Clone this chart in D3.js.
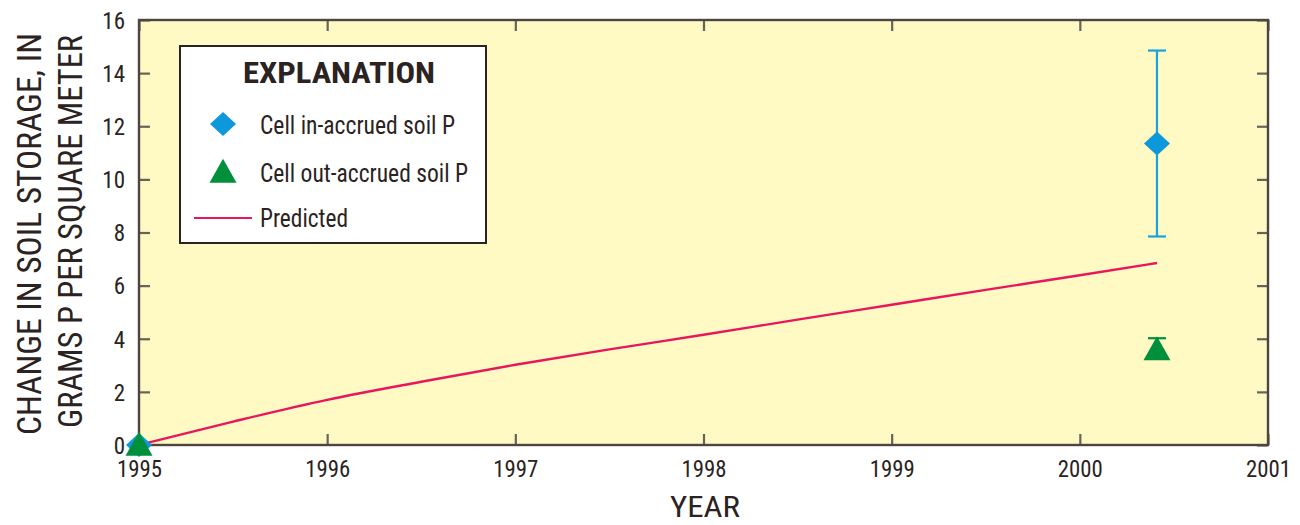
<!DOCTYPE html>
<html><head><meta charset="utf-8">
<script src="https://cdn.jsdelivr.net/npm/d3@7"></script>
<style>
html,body{margin:0;padding:0;background:#fff;}
svg{display:block;}
text{font-family:"Liberation Sans Narrow","Roboto Condensed","DejaVu Sans Condensed","Arial Narrow",sans-serif;fill:#2a2322;}
</style></head>
<body>
<svg id="chart" width="1300" height="525"></svg>
<script>
// ---- data ----
const predictedYears  = [1995, 1995.5, 1996, 1996.5, 1997, 1997.5, 1998, 1998.5, 1999, 1999.5, 2000, 2000.41];
const predictedValues = [0, 0.88, 1.7, 2.38, 3.02, 3.6, 4.15, 4.72, 5.28, 5.84, 6.39, 6.85];
const inYears   = [1995, 2000.41];
const inValues  = [0, 11.35];
const inLow     = [0, 7.85];
const inHigh    = [0, 14.85];
const outYears  = [1995, 2000.41];
const outValues = [0, 3.6];
const outLow    = [0, 3.25];
const outHigh   = [0, 4.02];
const xTicks = [1995, 1996, 1997, 1998, 1999, 2000, 2001];
const yTicks = [0, 2, 4, 6, 8, 10, 12, 14, 16];
const legendLabels = ["Cell in-accrued soil P", "Cell out-accrued soil P", "Predicted"];

// ---- layout ----
const svg = d3.select("#chart");
const L = 139, R = 1268, T = 20, B = 445;
const x = d3.scaleLinear().domain([1995, 2001]).range([L, R]);
const y = d3.scaleLinear().domain([0, 16]).range([B, T]);

const blue = "#0d98dc", blueBar = "#1aa2dc", green = "#008f3a", pink = "#e8175d";
const frame = "#4e4540", tickCol = "#6a615a";

svg.append("rect").attr("x", L).attr("y", T).attr("width", R - L).attr("height", B - T)
  .attr("fill", "#fff9c3");

// ticks (inside) via axes
const tickLen = 11;
const gB = svg.append("g").attr("transform", `translate(0,${B})`)
  .call(d3.axisBottom(x).tickValues(xTicks).tickFormat(d3.format("d")).tickSizeInner(-tickLen).tickSizeOuter(0).tickPadding(16));
const gT = svg.append("g").attr("transform", `translate(0,${T})`)
  .call(d3.axisTop(x).tickValues(xTicks).tickSizeInner(-tickLen).tickSizeOuter(0).tickFormat(""));
const gL = svg.append("g").attr("transform", `translate(${L},0)`)
  .call(d3.axisLeft(y).tickValues(yTicks).tickSizeInner(-tickLen).tickSizeOuter(0).tickPadding(14));
const gR = svg.append("g").attr("transform", `translate(${R},0)`)
  .call(d3.axisRight(y).tickValues(yTicks).tickSizeInner(-tickLen).tickSizeOuter(0).tickFormat(""));
[gB, gT, gL, gR].forEach(g => {
  g.select(".domain").remove();
  g.selectAll(".tick line").attr("stroke", tickCol).attr("stroke-width", 2.2);
});
gB.selectAll(".tick text").attr("font-size", 23).attr("fill", "#2a2322")
  .attr("font-family", '"Liberation Sans Narrow","Roboto Condensed","DejaVu Sans Condensed",sans-serif')
  .attr("dy", "0.71em").attr("textLength", 45).attr("lengthAdjust", "spacingAndGlyphs");
gL.selectAll(".tick text").attr("font-size", 23).attr("fill", "#2a2322")
  .attr("font-family", '"Liberation Sans Narrow","Roboto Condensed","DejaVu Sans Condensed",sans-serif')
  .attr("dy", "0.36em");

// frame
svg.append("rect").attr("x", L).attr("y", T).attr("width", R - L).attr("height", B - T)
  .attr("fill", "none").attr("stroke", frame).attr("stroke-width", 2.4);

// predicted line
const pts = predictedYears.map((d, i) => [d, predictedValues[i]]);
svg.append("path").datum(pts)
  .attr("d", d3.line().x(d => x(d[0])).y(d => y(d[1])).curve(d3.curveMonotoneX))
  .attr("fill", "none").attr("stroke", pink).attr("stroke-width", 2.4);

// error bars
function errBar(xs, lo, hi, col, cap) {
  xs.forEach((xv, i) => {
    if (hi[i] === lo[i]) return;
    const g = svg.append("g").attr("stroke", col).attr("stroke-width", 2.2);
    g.append("line").attr("x1", x(xv)).attr("x2", x(xv)).attr("y1", y(lo[i])).attr("y2", y(hi[i]));
    g.append("line").attr("x1", x(xv) - cap).attr("x2", x(xv) + cap).attr("y1", y(lo[i])).attr("y2", y(lo[i]));
    g.append("line").attr("x1", x(xv) - cap).attr("x2", x(xv) + cap).attr("y1", y(hi[i])).attr("y2", y(hi[i]));
  });
}
errBar(inYears, inLow, inHigh, blueBar, 9);
errBar(outYears, outLow, outHigh, green, 9);

// markers
const diamond = (cx, cy, w, h) => `M${cx},${cy - h}L${cx + w},${cy}L${cx},${cy + h}L${cx - w},${cy}Z`;
const tri = (cx, cy, w, h) => `M${cx},${cy - h * 0.55}L${cx + w},${cy + h * 0.45}L${cx - w},${cy + h * 0.45}Z`;
inYears.forEach((d, i) => svg.append("path").attr("d", diamond(x(d), y(inValues[i]), 13, 12)).attr("fill", blue));
outYears.forEach((d, i) => svg.append("path").attr("d", tri(x(d), y(outValues[i]), 13.5, 24)).attr("fill", green));

// axis titles
svg.append("text").attr("x", 705).attr("y", 517).attr("text-anchor", "middle")
  .attr("font-size", 29).attr("textLength", 70).attr("lengthAdjust", "spacingAndGlyphs").text("YEAR");
svg.append("text").attr("transform", "translate(41,234) rotate(-90)").attr("text-anchor", "middle")
  .attr("font-size", 34).attr("textLength", 402).attr("lengthAdjust", "spacingAndGlyphs").text("CHANGE IN SOIL STORAGE, IN");
svg.append("text").attr("transform", "translate(82,231.5) rotate(-90)").attr("text-anchor", "middle")
  .attr("font-size", 34).attr("textLength", 393).attr("lengthAdjust", "spacingAndGlyphs").text("GRAMS P PER SQUARE METER");

// legend
const lg = svg.append("g");
lg.append("rect").attr("x", 180).attr("y", 46).attr("width", 306).attr("height", 197)
  .attr("fill", "#fff").attr("stroke", "#2a2322").attr("stroke-width", 2);
lg.append("text").attr("x", 243).attr("y", 83).attr("font-size", 29).attr("font-weight", "bold")
  .attr("textLength", 192).attr("lengthAdjust", "spacingAndGlyphs").text("EXPLANATION");
lg.append("path").attr("d", diamond(223, 124, 13, 12)).attr("fill", blue);
lg.append("path").attr("d", tri(223, 172, 13.5, 24)).attr("fill", green);
lg.append("line").attr("x1", 194).attr("x2", 252).attr("y1", 218).attr("y2", 218)
  .attr("stroke", pink).attr("stroke-width", 2);
const lw = [195, 208, 88], ly = [134, 182, 227];
legendLabels.forEach((t, i) => lg.append("text").attr("x", 260).attr("y", ly[i]).attr("font-size", 25)
  .attr("textLength", lw[i]).attr("lengthAdjust", "spacingAndGlyphs").text(t));
</script>
</body></html>
